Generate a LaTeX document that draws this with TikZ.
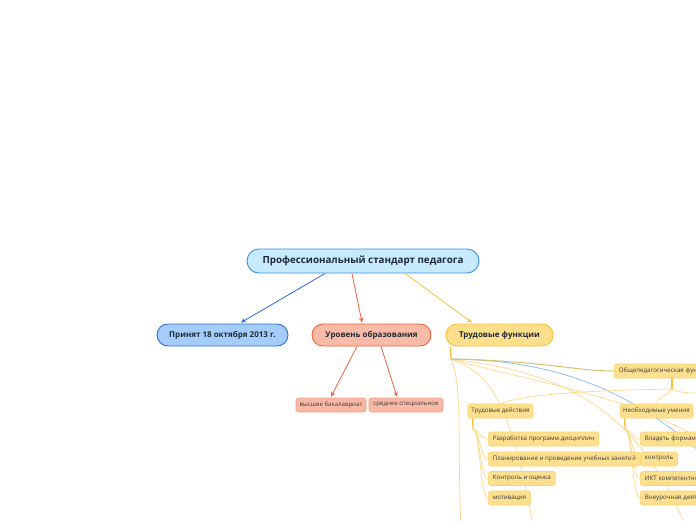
\documentclass[tikz,border=0pt]{standalone}
\usepackage{fontspec}
\setmainfont{Open Sans}
\usetikzlibrary{calc,arrows.meta}
\definecolor{rootfill}{HTML}{C7EBFD}
\definecolor{rootdraw}{HTML}{3A8EE6}
\definecolor{bluefill}{HTML}{A5CDFB}
\definecolor{bluedraw}{HTML}{2B6FD9}
\definecolor{redfill}{HTML}{F9BBA8}
\definecolor{reddraw}{HTML}{F0613F}
\definecolor{yelfill}{HTML}{FEDF8C}
\definecolor{yeldraw}{HTML}{F7BF3A}
\definecolor{leafred}{HTML}{F8B9A4}
\definecolor{leafreddraw}{HTML}{F2A088}
\definecolor{leafyel}{HTML}{FDE08F}
\definecolor{leafyeldraw}{HTML}{FBD36A}
\definecolor{txt}{HTML}{1F2A38}
\definecolor{smalltxt}{HTML}{3A3A3A}
\definecolor{thinyel}{HTML}{FCD88A}
\definecolor{stemyel}{HTML}{F5C13A}
\definecolor{bluecurve}{HTML}{8EC3E6}
\begin{document}
\begin{tikzpicture}[x=1pt,y=-1pt,
  rootbox/.style={draw=rootdraw,fill=rootfill,line width=0.9pt,rounded corners=12pt,
    minimum width=232pt,minimum height=24pt,inner sep=0pt,text=txt,
    font=\fontsize{9.8}{11}\selectfont\bfseries},
  mainbox/.style={line width=0.9pt,rounded corners=11pt,minimum height=22pt,inner sep=0pt,
    text=txt,font=\fontsize{8}{9}\selectfont\bfseries},
  redleaf/.style={draw=leafreddraw,fill=leafred,line width=0.6pt,rounded corners=2.5pt,
    minimum height=14pt,inner sep=0pt,text=smalltxt,font=\fontsize{6.1}{7}\selectfont},
  yelleaf/.style={draw=leafyeldraw,fill=leafyel,line width=0.6pt,rounded corners=2.5pt,
    minimum height=14pt,inner xsep=4.5pt,inner ysep=0pt,text=smalltxt,anchor=west,
    font=\fontsize{6.2}{7}\selectfont},
  cut/.style={text width=100pt,align=left},
  arr/.style={line width=0.8pt,-{Stealth[length=5pt,width=4.5pt]}},
  thin/.style={draw=thinyel,line width=0.7pt},
  stem/.style={draw=stemyel,line width=1.3pt}]
\useasboundingbox (0,0) rectangle (696,520);
\clip (0,0) rectangle (696,520);
\fill[white] (0,0) rectangle (696,520);

% coordinates of branch points
\coordinate (tfs) at (451,359);
\coordinate (obs) at (672,389);
\coordinate (tds) at (473,429);
\coordinate (nus) at (625,429);
\coordinate (e1) at (700,452);
\coordinate (e2) at (700,438);
\coordinate (e3) at (685,525);
\coordinate (e4) at (533,525);
\coordinate (e5) at (461,525);
\coordinate (e6) at (700,393);

% long faint curves (behind nodes)
\draw[thin] (tfs) .. controls (463,385) and (457,450) .. (e5);
\draw[thin] (tfs) .. controls (492,372) and (512,410) .. (e4);
\draw[thin] (tfs) .. controls (540,384) and (615,392) .. (e2);
\draw[thin] (tfs) .. controls (560,372) and (635,405) .. (e3);
\draw[draw=bluecurve,line width=0.8pt] (tfs) .. controls (570,360) and (640,400) .. (e1);

% nodes
\node[rootbox] (root) at (363,261) {Профессиональный стандарт педагога};
\node[mainbox,draw=bluedraw,fill=bluefill,minimum width=131pt] (p1) at (222.5,335) {Принят 18 октября 2013 г.};
\node[mainbox,draw=reddraw,fill=redfill,minimum width=119pt] (edu) at (371.5,335) {Уровень образования};
\node[mainbox,draw=yeldraw,fill=yelfill,minimum width=107pt] (tf) at (499.5,335) {Трудовые функции};

\node[redleaf,minimum width=70pt] (edu1) at (331,405) {высшее бакалавриат};
\node[redleaf,minimum width=74pt] (edu2) at (406,405) {среднее специальное};

% stems and curves in the yellow branch
\draw[stem] ($(tf.south west)+(5,0)$) -- (tfs);
\draw[draw=stemyel!70!bluecurve,line width=1pt] (tfs) .. controls (545,361) and (575,371) .. (614,371);

\node[yelleaf,cut] (ob) at (614,371) {Общепедагогическая фун};
\node[yelleaf,anchor=center,minimum width=65pt,inner xsep=0pt] (td) at (500.5,411) {Трудовые действия};
\node[yelleaf,anchor=center,minimum width=73pt,inner xsep=0pt] (nu) at (656.5,411) {Необходимые умения};

\draw[stem] ($(ob.south west)+(58,0)$) -- (obs);
\draw[thin] (obs) .. controls (620,390) and (530,392) .. (td.north);
\draw[thin] (obs) .. controls (665,398) and (657,396) .. (nu.north);
\draw[thin] (obs) .. controls (680,393) and (690,393) .. (e6);

\draw[stem] ($(td.south west)+(5,0)$) -- (tds);
\draw[stem] ($(nu.south west)+(5,0)$) -- (nus);

\node[yelleaf] (td1) at (488,439) {Разработка программ дисциплин};
\node[yelleaf] (td2) at (488,459) {Планирование и проведение учебных занятий};
\node[yelleaf] (td3) at (488,478.5) {Контроль и оценка};
\node[yelleaf] (td4) at (488,498) {мотивация};

\node[yelleaf,cut] (nu1) at (640,439) {Владеть формами};
\node[yelleaf] (nu2) at (640,459) {контроль};
\node[yelleaf,cut] (nu3) at (640,478.5) {ИКТ компетентно};
\node[yelleaf,cut] (nu4) at (640,498) {Внеурочная деяте};

\foreach \c in {td1,td2,td3,td4}{
  \draw[thin] (tds) .. controls ($(tds)+(7,1)$) and ($(\c.west)+(-8,0)$) .. (\c.west);
}
\foreach \c in {nu1,nu2,nu3,nu4}{
  \draw[thin] (nus) .. controls ($(nus)+(7,1)$) and ($(\c.west)+(-8,0)$) .. (\c.west);
}

% arrows from the root
\draw[arr,draw=bluedraw] ($(root.south)+(-38,0)$) -- ($(p1.north)+(18.5,-1)$);
\draw[arr,draw=reddraw] ($(root.south)+(-11,0)$) -- ($(edu.north)+(-9.5,-1)$);
\draw[arr,draw=stemyel] ($(root.south)+(42,0)$) -- ($(tf.north)+(-27.5,-1)$);
\draw[arr,draw=reddraw] ($(edu.south)+(-14.5,0)$) -- ($(edu1.north)+(0,-1)$);
\draw[arr,draw=reddraw] ($(edu.south)+(9.5,0)$) -- ($(edu2.north)+(-9,-1)$);
\end{tikzpicture}
\end{document}
